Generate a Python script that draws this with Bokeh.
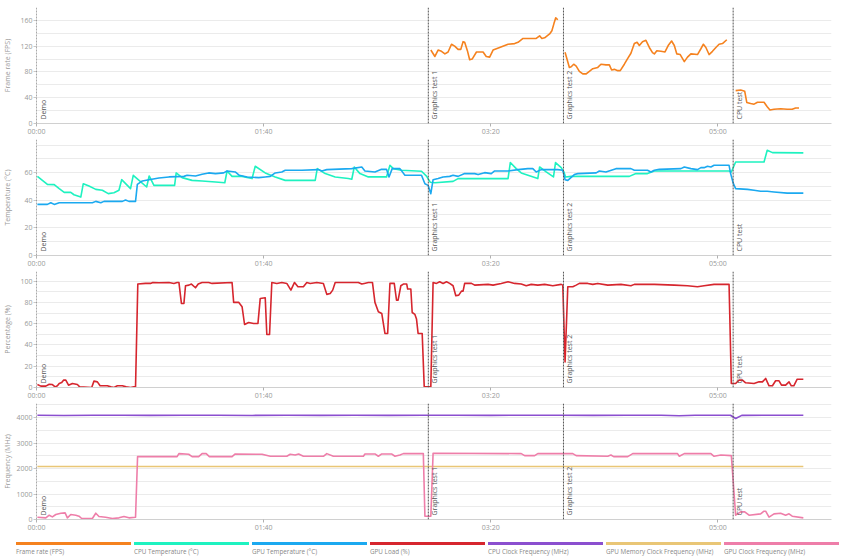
import math
from bokeh.plotting import figure
from bokeh.layouts import column
from bokeh.models import Range1d, FixedTicker, Span, Label, Div
from bokeh.embed import file_html
from bokeh.resources import INLINE

NaN = float("nan")

# ---------------- data ----------------
tick_secs = [0, 100, 200, 300]
tick_labels = ["00:00", "01:40", "03:20", "05:00"]

marker_names = ["Demo", "Graphics test 1", "Graphics test 2", "CPU test"]
marker_times = [0.0, 172.5, 232.0, 306.7]

series_names = ["Frame rate (FPS)", "CPU Temperature (°C)", "GPU Temperature (°C)",
                "GPU Load (%)", "CPU Clock Frequency (MHz)",
                "GPU Memory Clock Frequency (MHz)", "GPU Clock Frequency (MHz)"]
series_colors = ["#f5821f", "#1ef2c0", "#1ba9f0", "#d6262e", "#8b4fcf", "#e9c676", "#ee7ea9"]

fps_gt1_t = [173.6, 175.4, 176.8, 178.3, 179.8, 181.2, 182.7, 184.1, 185.6, 186.8,
             187.8, 188.5, 189.7, 190.7, 191.8, 193.7, 196.6, 198.0, 199.5, 201.0,
             203.9, 207.6, 210.5, 212.0, 214.2, 217.8, 220.0, 221.5, 222.5, 223.7,
             225.9, 226.9, 227.8, 228.6, 229.5]
fps_gt1_v = [114, 104, 114, 112, 108, 111, 123, 120, 115, 115,
             127, 126, 113, 99, 100, 111, 111, 104, 103, 114,
             118, 123, 124, 126, 132, 132, 132, 136, 132, 133,
             139, 144, 155, 164, 161]
fps_gt2_t = [232.7, 234.6, 235.4, 236.5, 237.6, 239.0, 240.5, 242.0, 243.4, 244.9,
             247.1, 248.5, 250.7, 252.2, 253.2, 254.4, 255.9, 257.0, 258.8, 260.3,
             261.7, 263.2, 264.4, 265.4, 266.8, 268.3, 269.8, 271.2, 272.0, 273.1,
             274.9, 276.7, 278.1, 279.6, 280.8, 281.9, 283.4, 285.2, 286.6, 288.1,
             291.0, 292.5, 293.6, 294.7, 296.1, 297.6, 299.1, 300.5, 302.0, 303.9]
fps_gt2_v = [110.6, 87, 88, 92, 89, 81, 77, 77, 81, 85,
             87, 92, 91, 91, 83, 84, 82, 82, 92, 101,
             109, 124, 126, 121, 127, 129, 118, 110, 108, 113,
             112, 111, 121, 128, 121, 108, 107, 96, 103, 108,
             107, 116, 123, 118, 107, 112, 118, 123, 124, 130]
fps_cpu_t = [307.8, 310.0, 311.8, 312.7, 314.4, 315.9, 317.4, 320.3, 321.7, 322.9,
             324.7, 327.6, 330.5, 332.7, 334.2, 335.7]
fps_cpu_v = [51, 52, 50, 32.7, 31, 30, 33, 33, 26, 21,
             22, 23, 22, 22, 24, 24]

cpu_temp_t = [0.4, 2.6, 4.8, 7.8, 10.0, 12.2, 15.1, 16.5, 19.5, 20.6,
              23.1, 26.1, 29.0, 31.6, 34.1, 36.3, 37.5, 41.4, 42.6, 45.4,
              48.5, 49.6, 51.7, 60.8, 61.5, 64.1, 68.5, 72.9, 78.8, 82.9,
              83.9, 86.1, 90.5, 94.9, 96.3, 100.7, 105.1, 109.5, 122.7, 123.6,
              127.1, 131.5, 137.3, 138.8, 139.9, 142.4, 146.1, 154.1, 155.6, 157.1,
              160.7, 169.5, 171.7, 173.4, 175.4, 183.4, 185.6, 207.6, 208.6, 211.2,
              213.4, 220.7, 221.5, 224.4, 227.6, 228.5, 231.0, 232.2, 232.9, 235.4,
              261.0, 263.9, 269.0, 272.0, 304.9, 305.9, 307.8, 320.3, 321.7, 324.0,
              337.6]
cpu_temp_v = [57.3, 54.4, 51.5, 51.3, 48.4, 45.7, 45.7, 44.0, 42.3, 52.0,
              50.3, 47.9, 47.2, 44.8, 45.5, 47.2, 54.9, 48.4, 58.0, 54.0,
              49.6, 57.6, 50.8, 50.8, 59.8, 56.4, 54.4, 54.0, 53.2, 52.7,
              61.2, 57.3, 57.3, 55.7, 64.6, 59.8, 56.9, 54.4, 54.4, 62.9,
              59.3, 56.9, 55.7, 55.2, 64.1, 59.3, 56.9, 56.9, 65.3, 62.9,
              61.7, 61.0, 57.5, 53.0, 52.7, 53.7, 55.7, 55.7, 67.3, 62.9,
              59.8, 55.7, 64.1, 60.5, 56.9, 67.3, 63.6, 60.5, 56.9, 57.3,
              57.3, 59.3, 59.3, 61.2, 61.2, 60.5, 67.7, 67.7, 76.2, 74.5,
              74.3]

gpu_temp_t = [0.4, 4.8, 6.3, 7.8, 10.0, 24.6, 26.1, 28.3, 29.7, 37.8,
              39.2, 40.7, 43.6, 44.4, 46.6, 49.5, 53.9, 58.3, 64.9, 66.3,
              70.0, 72.9, 75.8, 78.8, 82.4, 83.9, 87.5, 89.3, 92.7, 97.8,
              100.7, 102.9, 105.1, 108.0, 109.5, 116.8, 124.1, 125.6, 127.8, 138.8,
              143.2, 144.6, 149.0, 151.9, 154.1, 155.2, 156.6, 160.0, 162.2, 169.5,
              171.0, 172.4, 173.6, 174.6, 176.8, 179.0, 181.9, 183.4, 185.6, 188.5,
              192.9, 194.4, 197.3, 200.2, 201.7, 207.6, 212.0, 216.3, 218.5, 220.0,
              222.2, 229.5, 231.7, 232.7, 233.9, 236.8, 238.3, 246.4, 247.8, 250.7,
              255.1, 261.7, 263.2, 269.0, 270.5, 272.0, 274.2, 283.7, 285.2, 288.1,
              291.0, 292.5, 293.9, 295.4, 296.9, 298.3, 304.9, 305.6, 306.8, 307.8,
              313.0, 315.9, 318.8, 321.7, 324.7, 330.5, 337.6]
gpu_temp_v = [37.0, 37.0, 38.2, 37.0, 38.2, 38.2, 39.2, 38.2, 39.2, 39.2,
              40.2, 39.2, 39.2, 51.5, 54.0, 54.9, 56.1, 56.9, 57.3, 58.1,
              57.6, 58.8, 59.8, 59.3, 59.8, 61.2, 60.5, 58.1, 56.9, 56.4,
              56.9, 57.3, 59.8, 60.5, 61.7, 61.7, 62.2, 61.2, 62.2, 62.9,
              64.1, 61.2, 60.5, 62.4, 62.4, 56.9, 62.9, 62.9, 58.1, 58.1,
              52.0, 50.8, 44.8, 54.9, 55.7, 56.9, 57.3, 58.1, 57.3, 59.3,
              59.3, 58.6, 60.0, 59.3, 61.2, 61.2, 62.2, 62.9, 62.9, 60.5,
              62.2, 62.2, 61.7, 54.9, 54.4, 58.6, 59.3, 59.8, 61.2, 60.5,
              62.9, 62.9, 61.7, 61.7, 60.5, 61.7, 62.4, 62.9, 64.1, 62.9,
              62.2, 63.6, 63.6, 64.6, 64.1, 65.3, 65.3, 59.3, 52.0, 48.4,
              47.9, 47.2, 46.5, 46.5, 46.0, 45.2, 45.2]

gpu_load_t = [0.4, 1.9, 4.1, 5.6, 7.0, 8.2, 9.2, 10.0, 11.1, 11.9,
              12.9, 14.1, 15.8, 18.0, 19.0, 24.3, 25.3, 26.8, 28.0, 31.2,
              32.7, 34.1, 35.6, 37.8, 39.5, 41.4, 42.9, 43.6, 44.6, 48.0,
              50.2, 51.2, 53.9, 58.3, 60.5, 61.9, 62.7, 63.8, 64.9, 65.6,
              67.1, 68.2, 70.0, 71.2, 72.9, 75.8, 77.3, 86.1, 86.8, 89.0,
              90.5, 91.6, 93.4, 95.6, 97.5, 98.5, 100.7, 101.4, 102.6, 103.6,
              105.8, 108.0, 110.2, 112.0, 113.6, 115.1, 117.5, 119.0, 120.5, 123.4,
              126.3, 127.8, 129.3, 130.4, 131.5, 141.7, 143.2, 144.3, 146.1, 147.9,
              149.0, 150.5, 152.0, 153.4, 154.6, 155.6, 157.5, 158.5, 159.2, 160.4,
              161.5, 163.0, 163.4, 164.8, 165.4, 166.6, 167.3, 168.0, 169.8, 170.7,
              173.6, 174.6, 176.1, 177.5, 179.0, 180.5, 181.9, 183.4, 184.6, 185.9,
              187.1, 187.8, 188.5, 191.5, 192.9, 198.8, 201.0, 204.6, 207.6, 210.5,
              213.4, 215.6, 217.8, 220.7, 223.7, 227.3, 231.0, 231.7, 232.7, 233.9,
              236.1, 237.6, 239.0, 242.7, 244.9, 247.1, 251.5, 257.3, 261.7, 263.2,
              272.0, 280.8, 286.6, 291.0, 293.9, 298.3, 304.9, 305.9, 307.8, 309.3,
              310.8, 312.2, 315.9, 318.1, 319.6, 321.0, 322.5, 324.0, 325.4, 326.9,
              328.0, 329.8, 331.3, 332.3, 333.4, 334.9, 337.6]
gpu_load_v = [2.8, 1.3, 1.3, 3.1, 2.8, 0.6, 1.6, 3.8, 4.7, 6.9,
              6.9, 2.2, 3.8, 2.8, 0.6, 0.0, 6.0, 5.3, 1.6, 1.6,
              0.6, 0.0, 1.6, 1.6, 0.6, 0.0, 0.6, 0.6, 97.2, 97.8,
              97.8, 98.7, 98.4, 98.7, 97.8, 98.7, 98.7, 79.0, 79.0, 95.6,
              96.2, 97.2, 93.7, 97.2, 98.7, 98.7, 97.8, 98.7, 80.0, 80.0,
              75.9, 59.2, 61.1, 60.2, 60.2, 83.7, 84.3, 49.8, 49.8, 98.7,
              97.8, 98.7, 97.8, 91.5, 98.7, 94.7, 94.7, 98.7, 97.8, 98.7,
              97.8, 87.5, 88.4, 91.5, 98.7, 98.7, 97.2, 97.8, 98.7, 98.7,
              80.0, 71.2, 69.6, 50.8, 50.8, 97.8, 97.8, 82.1, 82.1, 95.6,
              97.2, 97.2, 92.5, 92.5, 70.5, 68.7, 64.3, 50.8, 50.8, 0.6,
              0.6, 98.7, 97.8, 99.4, 97.8, 99.4, 97.8, 95.6, 86.2, 86.8,
              90.6, 90.6, 97.8, 97.8, 96.2, 96.9, 96.2, 97.8, 99.4, 97.8,
              97.2, 95.6, 96.9, 96.2, 96.9, 95.6, 96.9, 96.2, 24.1, 94.7,
              94.7, 96.2, 97.8, 97.8, 96.9, 97.8, 96.2, 96.9, 95.6, 96.9,
              96.9, 96.2, 95.6, 94.7, 95.6, 96.9, 96.9, 3.8, 3.8, 6.9,
              6.9, 4.4, 3.8, 5.3, 5.3, 8.5, 1.6, 1.6, 6.3, 6.3,
              2.2, 2.2, 5.3, 1.6, 1.6, 7.8, 7.8]

cpu_clock_t = [0.4, 12, 25, 38, 50, 65, 80, 95, 110, 125,
               140, 155, 170, 185, 200, 215, 230, 245, 260, 275,
               283, 290, 305.5, 307.8, 310.5, 320, 337.6]
cpu_clock_v = [4090, 4080, 4088, 4092, 4085, 4090, 4088, 4082, 4090, 4086,
               4092, 4084, 4088, 4090, 4086, 4088, 4090, 4085, 4088, 4090,
               4070, 4088, 4090, 3960, 4085, 4090, 4090]

gpu_mem_t = [0.4, 337.6]
gpu_mem_v = [2078, 2078]

gpu_clock_t = [0.4, 4.1, 5.6, 7.0, 8.5, 10.7, 12.6, 13.6, 15.1, 17.3,
               18.7, 19.9, 24.6, 26.1, 27.5, 30.4, 33.4, 36.3, 38.5, 40.7,
               43.6, 44.5, 61.9, 62.7, 67.0, 68.5, 71.4, 72.9, 74.7, 76.1,
               86.1, 87.5, 99.3, 102.9, 110.2, 111.7, 113.9, 115.4, 117.5, 126.3,
               127.8, 130.7, 143.9, 144.6, 149.0, 150.5, 152.0, 156.3, 157.8, 160.0,
               161.5, 170.3, 171.0, 173.6, 174.6, 213.4, 214.9, 219.3, 220.7, 236.1,
               237.6, 251.5, 252.9, 254.1, 260.3, 262.5, 282.2, 283.0, 285.2, 296.9,
               298.3, 301.3, 305.9, 307.8, 310.0, 311.8, 313.7, 318.8, 320.3, 321.0,
               322.5, 324.7, 327.6, 329.8, 331.3, 332.7, 337.6]
gpu_clock_v = [91, 65, 169, 104, 195, 247, 260, 65, 195, 169,
               130, 39, 39, 247, 117, 91, 39, 65, 117, 65,
               91, 2468, 2468, 2584, 2558, 2468, 2468, 2584, 2584, 2468,
               2468, 2571, 2558, 2480, 2480, 2558, 2532, 2571, 2480, 2480,
               2584, 2480, 2480, 2571, 2571, 2480, 2571, 2571, 2480, 2532,
               2584, 2584, 130, 130, 2597, 2584, 2506, 2506, 2584, 2584,
               2506, 2480, 2532, 2468, 2468, 2584, 2584, 2480, 2584, 2584,
               2480, 2532, 2506, 169, 299, 299, 169, 221, 325, 325,
               91, 221, 247, 169, 221, 130, 65]

fps_t = fps_gt1_t + [NaN] + fps_gt2_t + [NaN] + fps_cpu_t
fps_v = fps_gt1_v + [NaN] + fps_gt2_v + [NaN] + fps_cpu_v

panels = [
    ("Frame rate (FPS)", 180, [0, 40, 80, 120, 160], list(range(20, 180, 20)),
     [(fps_t, fps_v, 0)]),
    ("Temperature (°C)", 84, [0, 20, 40, 60], list(range(10, 90, 10)),
     [(cpu_temp_t, cpu_temp_v, 1), (gpu_temp_t, gpu_temp_v, 2)]),
    ("Percentage (%)", 109, [0, 20, 40, 60, 80, 100], list(range(10, 110, 10)),
     [(gpu_load_t, gpu_load_v, 3)]),
    ("Frequency (MHz)", 4550, [0, 1000, 2000, 3000, 4000], list(range(500, 5000, 500)),
     [(cpu_clock_t, cpu_clock_v, 4), (gpu_mem_t, gpu_mem_v, 5), (gpu_clock_t, gpu_clock_v, 6)]),
]

# ---------------- layout / style ----------------
FONT = "Open Sans"
W = 845
FRAME_H = 116
AXIS_H = 16
TOP_PAD = 7
X_END = 350

figs = []
for i, (ylabel, ymax, yticks, ygrid, series) in enumerate(panels):
    top = TOP_PAD if i == 0 else 0
    p = figure(width=W, height=FRAME_H + AXIS_H + top,
               x_range=Range1d(0, X_END), y_range=Range1d(0, ymax),
               output_backend="svg", toolbar_location=None,
               min_border_left=34, min_border_right=14, min_border_top=top,
               min_border_bottom=AXIS_H)
    p.outline_line_color = None
    p.background_fill_color = "white"
    p.border_fill_color = "white"
    p.xgrid.visible = False
    p.ygrid.ticker = FixedTicker(ticks=ygrid)
    p.ygrid.grid_line_color = "#ebebeb"
    p.ygrid.grid_line_width = 1

    xa = p.xaxis[0]
    xa.ticker = FixedTicker(ticks=tick_secs)
    xa.major_label_overrides = {s: l for s, l in zip(tick_secs, tick_labels)}
    xa.axis_line_color = "#d0d0d0"
    xa.major_tick_line_color = "#b0b0b0"
    xa.major_tick_out = 3
    xa.major_tick_in = 0
    xa.minor_tick_line_color = None
    xa.major_label_text_font = FONT
    xa.major_label_text_font_size = "7px"
    xa.major_label_text_color = "#999999"
    xa.major_label_standoff = 0

    max_len = max(len(str(t)) for t in yticks)
    ya = p.yaxis[0]
    ya.ticker = FixedTicker(ticks=yticks)
    ya.axis_line_color = None
    ya.major_tick_line_color = "#c8c8c8"
    ya.major_tick_out = 3
    ya.major_tick_in = 0
    ya.minor_tick_line_color = None
    ya.major_label_text_font = FONT
    ya.major_label_text_font_size = "7px"
    ya.major_label_text_color = "#999999"
    ya.major_label_standoff = 1
    ya.axis_label = ylabel
    ya.axis_label_text_font = FONT
    ya.axis_label_text_font_size = "7px"
    ya.axis_label_text_font_style = "normal"
    ya.axis_label_text_color = "#999999"
    ya.axis_label_standoff = 1 + 4 * (4 - max_len)

    for ts, vs, ci in series:
        p.line(ts, vs, line_color=series_colors[ci], line_width=1.6, line_join="round")

    for name, mt in zip(marker_names, marker_times):
        p.add_layout(Span(location=mt, dimension="height", line_color="#555555",
                          line_dash="2 1", line_width=1))
        p.add_layout(Label(x=mt, y=0, x_offset=2, y_offset=4, angle=math.pi / 2,
                           text=name, text_font=FONT, text_font_size="7px",
                           text_color="#555555", text_align="left", text_baseline="top"))
    figs.append(p)

# legend strip (HTML so it spans the full width)
items = []
for name, color in zip(series_names, series_colors):
    items.append(
        '<div style="width:115px;margin-right:3px;">'
        f'<div style="height:3px;background:{color};"></div>'
        f'<div style="font-family:\'Open Sans\';font-size:6.3px;color:#888;margin-top:3px;'
        f'white-space:nowrap;line-height:8px;">{name}</div></div>'
    )
legend = Div(text='<div style="display:flex;padding-left:11px;padding-top:2px;">' + "".join(items) + "</div>",
             width=W, height=22)
figs.append(legend)

layout = column(*figs)
open("out.html", "w").write(file_html(layout, INLINE))
